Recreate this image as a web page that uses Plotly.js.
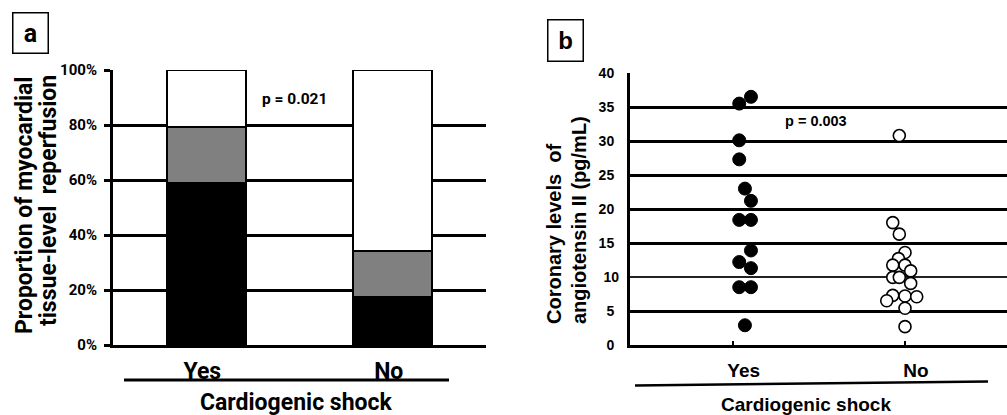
<!DOCTYPE html>
<html>
<head>
<meta charset="utf-8">
<script src="https://cdn.plot.ly/plotly-3.0.1.min.js"></script>
<style>html,body{margin:0;padding:0;background:#fff;}#chart{width:1007px;height:415px;}</style>
</head>
<body>
<div id="chart"></div>
<script>
// ---- Panel a data ----
var categoriesA = ['Yes', 'No'];
var blackA = [58.8, 17.6];
var greyA  = [20.6, 16.7];
var whiteA = [20.6, 65.7];
var tickValsA = [0, 20, 40, 60, 80, 100];
var tickTextA = ['0%', '20%', '40%', '60%', '80%', '100%'];

// ---- Panel b data ----
var categoriesB = ['Yes', 'No'];
var yesX = [0.106, 0.038, 0.038, 0.038, 0.071, 0.106, 0.038, 0.106, 0.106, 0.038, 0.106, 0.038, 0.106, 0.071];
var yesY = [36.5, 35.5, 30.1, 27.3, 23.0, 21.2, 18.4, 18.4, 13.9, 12.2, 11.3, 8.5, 8.5, 2.9];
var noX  = [0.967, 0.929, 0.967, 1.000, 0.962, 0.929, 1.000, 1.033, 0.929, 0.967, 1.033, 0.929, 1.000, 1.068, 0.894, 1.000, 1.000];
var noY  = [30.8, 18.0, 16.3, 13.6, 12.7, 11.75, 11.75, 10.9, 9.95, 9.95, 9.06, 7.3, 7.2, 7.1, 6.5, 5.4, 2.7];
var tickValsB = [0, 5, 15, 20, 25, 30, 35, 40];
var thinTickB = [10];

var W = 1007, H = 415;
function px(x) { return x / W; }
function py(y) { return 1 - y / H; }

var fA = 'Roboto, "Open Sans", sans-serif';
var fB = '"Liberation Sans", Arial, sans-serif';

var barLine = {color: '#000', width: 2};
var traces = [
  {type: 'bar', x: categoriesA, y: blackA, marker: {color: '#000000', line: barLine}, width: 0.424, xaxis: 'x', yaxis: 'y', hoverinfo: 'skip'},
  {type: 'bar', x: categoriesA, y: greyA,  marker: {color: '#808080', line: barLine}, width: 0.424, xaxis: 'x', yaxis: 'y', hoverinfo: 'skip'},
  {type: 'bar', x: categoriesA, y: whiteA, marker: {color: '#ffffff', line: barLine}, width: 0.424, xaxis: 'x', yaxis: 'y', hoverinfo: 'skip'},
  {type: 'scatter', mode: 'markers', x: [], y: [], xaxis: 'x2', yaxis: 'y3', hoverinfo: 'skip'},
  {type: 'scatter', mode: 'markers', x: yesX, y: yesY, xaxis: 'x2', yaxis: 'y2',
   marker: {size: 13, color: '#000', line: {color: '#000', width: 1}}, hoverinfo: 'skip'},
  {type: 'scatter', mode: 'markers', x: noX, y: noY, xaxis: 'x2', yaxis: 'y2',
   marker: {size: 12, color: '#fff', line: {color: '#000', width: 1.6}}, hoverinfo: 'skip'}
];

var layout = {
  width: W, height: H,
  margin: {l: 0, r: 0, t: 0, b: 0},
  paper_bgcolor: '#fff', plot_bgcolor: 'rgba(0,0,0,0)',
  showlegend: false,
  barmode: 'stack',
  xaxis: {
    domain: [px(113), px(486)], anchor: 'y', type: 'category',
    range: [-0.5, 1.5], showgrid: false, zeroline: false,
    showline: true, linecolor: '#000', linewidth: 3,
    ticks: '', tickfont: {family: fA, size: 23, color: '#000', weight: 'bold'},
    ticklabelstandoff: 3, ticklabelshift: -4, fixedrange: true
  },
  yaxis: {
    domain: [py(345), py(70)], anchor: 'x',
    range: [0, 100], tickvals: tickValsA, ticktext: tickTextA,
    showgrid: true, gridcolor: '#000', gridwidth: 3, zeroline: false,
    showline: true, linecolor: '#000', linewidth: 3,
    ticks: 'outside', ticklen: 6, tickwidth: 3, tickcolor: '#000',
    tickfont: {family: fA, size: 15, color: '#000', weight: 'bold'},
    ticklabelstandoff: 4, fixedrange: true
  },
  xaxis2: {
    domain: [px(630), 1], anchor: 'y2',
    range: [-0.596, 1.592], tickvals: [0, 1], ticktext: categoriesB,
    showgrid: false, zeroline: false,
    showline: true, linecolor: '#000', linewidth: 3,
    ticks: 'inside', ticklen: 4, tickwidth: 2, tickcolor: '#000',
    tickfont: {family: fB, size: 19, color: '#000', weight: 'bold'},
    ticklabelstandoff: 6, ticklabelshift: 11, fixedrange: true
  },
  yaxis2: {
    domain: [py(345), py(73)], anchor: 'x2',
    range: [0, 40], tickvals: tickValsB,
    showgrid: true, gridcolor: '#000', gridwidth: 3, zeroline: false,
    showline: true, linecolor: '#000', linewidth: 3,
    ticks: '', tickfont: {family: fB, size: 14, color: '#000', weight: 'bold'},
    ticklabelstandoff: 10, fixedrange: true
  },
  yaxis3: {
    domain: [py(345), py(73)], anchor: 'x2', overlaying: 'y2', side: 'left',
    range: [0, 40], tickvals: thinTickB,
    showgrid: true, gridcolor: '#222', gridwidth: 1.5, zeroline: false,
    showline: false, ticks: '',
    tickfont: {family: fB, size: 14, color: '#000', weight: 'bold'},
    ticklabelstandoff: 10, fixedrange: true
  },
  shapes: [
    {type: 'line', xref: 'paper', yref: 'paper', x0: px(124), x1: px(449), y0: py(380), y1: py(380), line: {color: '#000', width: 3}},
    {type: 'line', xref: 'paper', yref: 'paper', x0: px(635), x1: px(988), y0: py(385.5), y1: py(381.5), line: {color: '#000', width: 2.5}}
  ],
  annotations: [
    {text: 'a', xref: 'paper', yref: 'paper', x: px(30.5), y: py(33), xanchor: 'center', yanchor: 'middle', showarrow: false,
     font: {family: fA, size: 25, color: '#000', weight: 'bold'}, bordercolor: '#000', borderwidth: 1.5, width: 32, height: 37, bgcolor: '#fff'},
    {text: 'b', xref: 'paper', yref: 'paper', x: px(565.5), y: py(40.5), xanchor: 'center', yanchor: 'middle', showarrow: false,
     font: {family: fB, size: 24, color: '#000', weight: 'bold'}, bordercolor: '#000', borderwidth: 1.5, width: 32, height: 38, bgcolor: '#fff'},
    {text: 'p = 0.021', xref: 'paper', yref: 'paper', x: px(294), y: py(99), xanchor: 'center', yanchor: 'middle', showarrow: false,
     font: {family: fA, size: 15.5, color: '#000', weight: 'bold'}},
    {text: 'p = 0.003', xref: 'paper', yref: 'paper', x: px(816), y: py(121), xanchor: 'center', yanchor: 'middle', showarrow: false,
     font: {family: fB, size: 14.5, color: '#000', weight: 'bold'}},
    {text: 'Cardiogenic shock', xref: 'paper', yref: 'paper', x: px(296), y: py(402), xanchor: 'center', yanchor: 'middle', showarrow: false,
     font: {family: fA, size: 23, color: '#000', weight: 'bold'}},
    {text: 'Cardiogenic shock', xref: 'paper', yref: 'paper', x: px(806), y: py(404), xanchor: 'center', yanchor: 'middle', showarrow: false,
     font: {family: fB, size: 19, color: '#000', weight: 'bold'}},
    {text: 'Proportion of myocardial', xref: 'paper', yref: 'paper', x: px(24), y: py(206), xanchor: 'center', yanchor: 'middle', textangle: -90, showarrow: false,
     font: {family: fA, size: 23, color: '#000', weight: 'bold'}},
    {text: 'tissue-level\u00A0\u00A0reperfusion', xref: 'paper', yref: 'paper', x: px(48), y: py(201), xanchor: 'center', yanchor: 'middle', textangle: -90, showarrow: false,
     font: {family: fA, size: 23, color: '#000', weight: 'bold'}},
    {text: 'Coronary levels\u00A0\u00A0of', xref: 'paper', yref: 'paper', x: px(554), y: py(326), xanchor: 'center', yanchor: 'bottom', textangle: -90, showarrow: false,
     font: {family: fB, size: 20, color: '#000', weight: 'bold'}},
    {text: 'angiotensin II (pg/mL)', xref: 'paper', yref: 'paper', x: px(579), y: py(326), xanchor: 'center', yanchor: 'bottom', textangle: -90, showarrow: false,
     font: {family: fB, size: 20, color: '#000', weight: 'bold'}}
  ]
};

Plotly.newPlot('chart', traces, layout, {staticPlot: true, displayModeBar: false});
</script>
</body>
</html>
